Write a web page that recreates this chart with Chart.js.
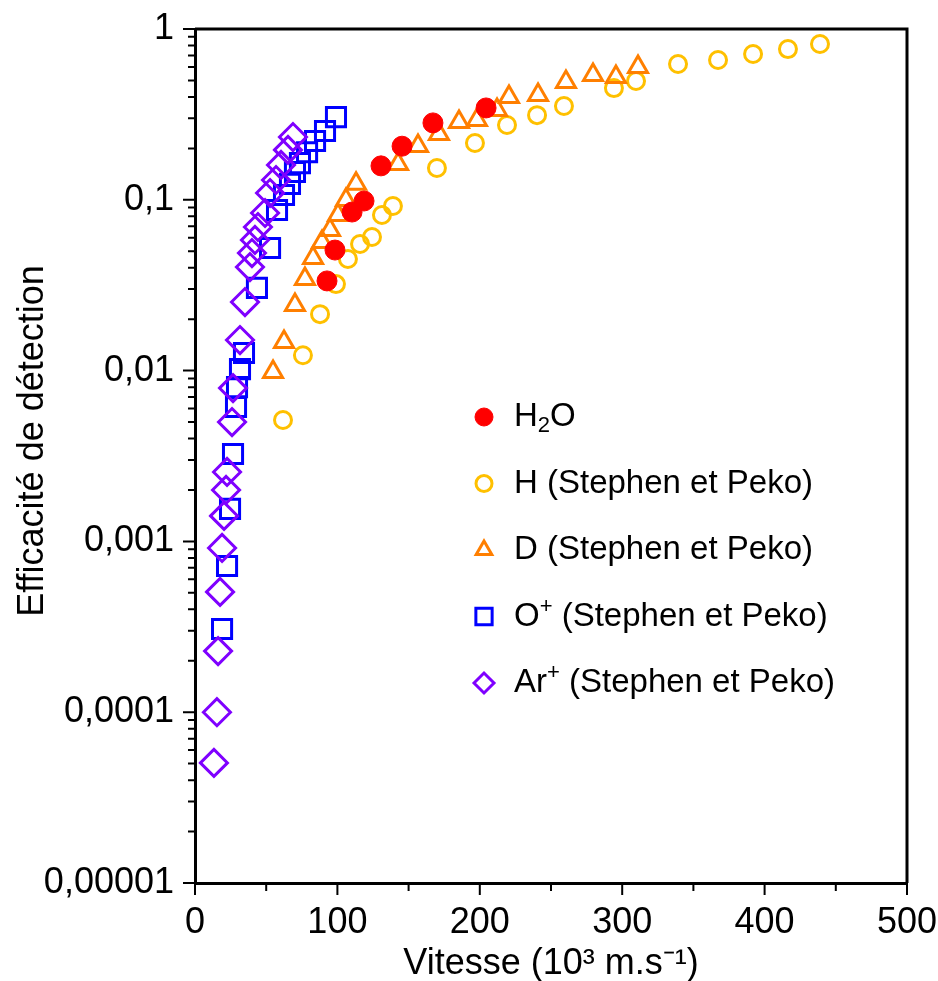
<!DOCTYPE html>
<html>
<head>
<meta charset="utf-8">
<script src="https://cdn.jsdelivr.net/npm/chart.js@4.4.1/dist/chart.umd.min.js"></script>
<style>
  html, body { margin: 0; padding: 0; background: #fff; }
  #wrap { width: 938px; height: 981px; }
</style>
</head>
<body>
<div id="wrap"><canvas id="effChart" width="938" height="981"></canvas></div>
<script>
// valeurs (vitesse en 10^3 m/s, efficacite)
const h2oX = [92.7, 98.3, 110.3, 118.7, 130.6, 145.4, 167.1, 204.4];
const h2oY = [0.0335, 0.0508, 0.0848, 0.0984, 0.158, 0.206, 0.282, 0.345];

const hX = [61.8, 75.8, 87.8, 99.0, 107.4, 115.9, 124.3, 131.3, 139.0, 169.9, 196.6,
            219.1, 240.2, 259.1, 294.2, 309.7, 339.2, 367.3, 391.9, 416.4, 438.9];
const hY = [0.00514, 0.0123, 0.0214, 0.0321, 0.045, 0.0551, 0.0606, 0.0815, 0.092, 0.1535, 0.215,
            0.274, 0.313, 0.354, 0.451, 0.496, 0.624, 0.658, 0.714, 0.763, 0.817];

const dX = [54.8, 62.5, 70.2, 77.2, 82.9, 89.2, 94.8, 100.4, 106.0, 113.1, 142.6,
            156.6, 171.3, 185.4, 198.0, 212.1, 220.5, 240.9, 260.5, 279.5, 295.6, 311.1];
const dY = [0.0098, 0.0147, 0.0242, 0.0344, 0.0456, 0.0566, 0.0666, 0.0815, 0.0997, 0.124, 0.162,
            0.2065, 0.243, 0.2855, 0.293, 0.336, 0.400, 0.411, 0.490, 0.538, 0.524, 0.599];

const oX = [99.0, 91.3, 84.3, 78.7, 73.7, 70.2, 66.7, 62.5, 57.6, 52.7, 43.5,
            34.4, 31.6, 29.5, 28.8, 26.7, 24.6, 22.5, 19.0];
const oY = [0.305, 0.253, 0.221, 0.190, 0.164, 0.1455, 0.124, 0.1067, 0.0871, 0.0522, 0.0305,
            0.01268, 0.0102, 0.0080, 0.00612, 0.00325, 0.00155, 0.000718, 0.000307];

const arX = [68.8, 65.3, 60.4, 56.9, 52.7, 49.2, 44.2, 42.1, 40.0, 38.6, 35.1,
             31.6, 26.7, 26.0, 22.5, 21.8, 20.4, 19.0, 17.6, 16.2, 15.4, 13.3];
const arY = [0.233, 0.196, 0.160, 0.1306, 0.1096, 0.0837, 0.0693, 0.0582, 0.0488, 0.0404, 0.0252,
             0.0151, 0.0079, 0.0050, 0.00255, 0.0020, 0.00141, 0.000915, 0.000506, 0.000228, 0.0001, 0.0000505];

const yTickValues = [1, 0.1, 0.01, 0.001, 0.0001, 0.00001];
const yTickLabels = ["1", "0,1", "0,01", "0,001", "0,0001", "0,00001"];
const xTickLabels = ["0", "100", "200", "300", "400", "500"];

const FONT = '"Liberation Sans", Arial, sans-serif';

function pts(xs, ys) {
  return xs.map((x, i) => ({ x: x, y: ys[i] }));
}

// legende dessinee a la main (position dans la zone du graphe)
const legendItems = [
  { parts: [["H", 0], ["2", 1], ["O", 0]], ds: 0 },
  { parts: [["H (Stephen et Peko)", 0]], ds: 1 },
  { parts: [["D (Stephen et Peko)", 0]], ds: 2 },
  { parts: [["O", 0], ["+", 2], [" (Stephen et Peko)", 0]], ds: 3 },
  { parts: [["Ar", 0], ["+", 2], [" (Stephen et Peko)", 0]], ds: 4 },
];

function noPad(s) {
  s.paddingTop = 0;
  s.paddingBottom = 0;
  s.paddingLeft = 0;
  s.paddingRight = 0;
}

const framePlugin = {
  id: "frame",
  afterDraw(chart) {
    const ctx = chart.ctx;
    const xs = chart.scales.x, ys = chart.scales.y;
    const a = chart.chartArea;
    ctx.save();
    ctx.strokeStyle = "#000";
    ctx.lineWidth = 3;
    ctx.beginPath();
    ctx.moveTo(a.left, a.top);
    ctx.lineTo(a.right, a.top);
    ctx.lineTo(a.right, a.bottom);
    ctx.stroke();

    // graduations y
    ctx.lineWidth = 2;
    ctx.beginPath();
    for (let e = -5; e <= 0; e++) {
      const y = ys.getPixelForValue(Math.pow(10, e));
      ctx.moveTo(a.left - 12, y);
      ctx.lineTo(a.left, y);
      if (e < 0) {
        for (let k = 2; k <= 9; k++) {
          const yy = ys.getPixelForValue(k * Math.pow(10, e));
          ctx.moveTo(a.left - 7, yy);
          ctx.lineTo(a.left, yy);
        }
      }
    }
    // graduations x
    for (let v = 0; v <= 500; v += 50) {
      const x = xs.getPixelForValue(v);
      ctx.moveTo(x, a.bottom);
      ctx.lineTo(x, a.bottom + (v % 100 === 0 ? 12 : 8));
    }
    ctx.stroke();

    // titre axe y
    ctx.save();
    ctx.translate(33, 441);
    ctx.rotate(-Math.PI / 2);
    ctx.fillStyle = "#000";
    ctx.font = "36px " + FONT;
    ctx.textAlign = "center";
    ctx.textBaseline = "middle";
    ctx.fillText("Efficacité de détection", 0, 0);
    ctx.restore();

    // legende
    const lx = 484, tx = 514;
    let ly = 417;
    legendItems.forEach(item => {
      const ds = chart.data.datasets[item.ds];
      ctx.fillStyle = ds.backgroundColor;
      ctx.strokeStyle = ds.borderColor;
      ctx.lineWidth = ds.borderWidth;
      Chart.helpers.drawPoint(ctx, {
        pointStyle: ds.pointStyle,
        radius: ds.legendRadius,
        borderWidth: ds.borderWidth,
        rotation: 0
      }, lx, ly);
      ctx.fillStyle = "#000";
      ctx.textBaseline = "middle";
      ctx.textAlign = "left";
      let x = tx;
      item.parts.forEach(p => {
        if (p[1] === 0) {
          ctx.font = "33px " + FONT;
          ctx.fillText(p[0], x, ly);
        } else if (p[1] === 1) {
          ctx.font = "22px " + FONT;
          ctx.fillText(p[0], x, ly + 9);
        } else {
          ctx.font = "22px " + FONT;
          ctx.fillText(p[0], x, ly - 10);
        }
        x += ctx.measureText(p[0]).width;
      });
      ly += 66.5;
    });
    ctx.restore();
  }
};

new Chart(document.getElementById("effChart"), {
  type: "scatter",
  data: {
    datasets: [
      {
        label: "H2O",
        data: pts(h2oX, h2oY),
        pointStyle: "circle",
        pointRadius: 10,
        legendRadius: 9,
        backgroundColor: "#ff0000",
        borderColor: "#ff0000",
        borderWidth: 1,
        order: 0,
      },
      {
        label: "H (Stephen et Peko)",
        data: pts(hX, hY),
        pointStyle: "circle",
        pointRadius: 8.5,
        legendRadius: 8,
        backgroundColor: "rgba(0,0,0,0)",
        borderColor: "#ffc000",
        borderWidth: 3,
        order: 4,
      },
      {
        label: "D (Stephen et Peko)",
        data: pts(dX, dY),
        pointStyle: "triangle",
        pointRadius: 11,
        legendRadius: 9,
        backgroundColor: "rgba(0,0,0,0)",
        borderColor: "#ff7f00",
        borderWidth: 3,
        order: 3,
      },
      {
        label: "O+ (Stephen et Peko)",
        data: pts(oX, oY),
        pointStyle: "rect",
        pointRadius: 13.5,
        legendRadius: 11.5,
        backgroundColor: "rgba(0,0,0,0)",
        borderColor: "#0000ff",
        borderWidth: 3,
        order: 2,
      },
      {
        label: "Ar+ (Stephen et Peko)",
        data: pts(arX, arY),
        pointStyle: "rectRot",
        pointRadius: 13.5,
        legendRadius: 10,
        backgroundColor: "rgba(0,0,0,0)",
        borderColor: "#7f00ff",
        borderWidth: 3,
        order: 1,
      },
    ],
  },
  options: {
    responsive: false,
    animation: false,
    devicePixelRatio: 1,
    layout: { padding: { top: 29, right: 31, bottom: 0, left: 0 } },
    plugins: { legend: { display: false }, tooltip: { enabled: false } },
    scales: {
      x: {
        type: "linear",
        min: 0,
        max: 500,
        afterFit: (s) => { s.height = 98; noPad(s); },
        ticks: {
          stepSize: 100,
          color: "#000",
          padding: 18,
          font: { family: FONT, size: 36 },
          callback: (v) => xTickLabels[v / 100],
        },
        grid: { display: false, drawTicks: false },
        border: { display: true, color: "#000", width: 3 },
        title: {
          display: true,
          text: "Vitesse (10³ m.s⁻¹)",
          color: "#000",
          font: { family: FONT, size: 36 },
          padding: { top: 0, bottom: -5 },
        },
      },
      y: {
        type: "logarithmic",
        min: 0.00001,
        max: 1,
        afterFit: (s) => { s.width = 195; noPad(s); },
        afterBuildTicks: (s) => {
          s.ticks = yTickValues.map(v => ({ value: v, major: true }));
        },
        ticks: {
          autoSkip: false,
          color: "#000",
          padding: 21,
          font: { family: FONT, size: 36 },
          callback: (v) => {
            const i = yTickValues.findIndex(t => Math.abs(Math.log10(t) - Math.log10(v)) < 1e-6);
            return i >= 0 ? yTickLabels[i] : "";
          },
        },
        grid: { display: false, drawTicks: false },
        border: { display: true, color: "#000", width: 3 },
        title: { display: false },
      },
    },
  },
  plugins: [framePlugin],
});
</script>
</body>
</html>
